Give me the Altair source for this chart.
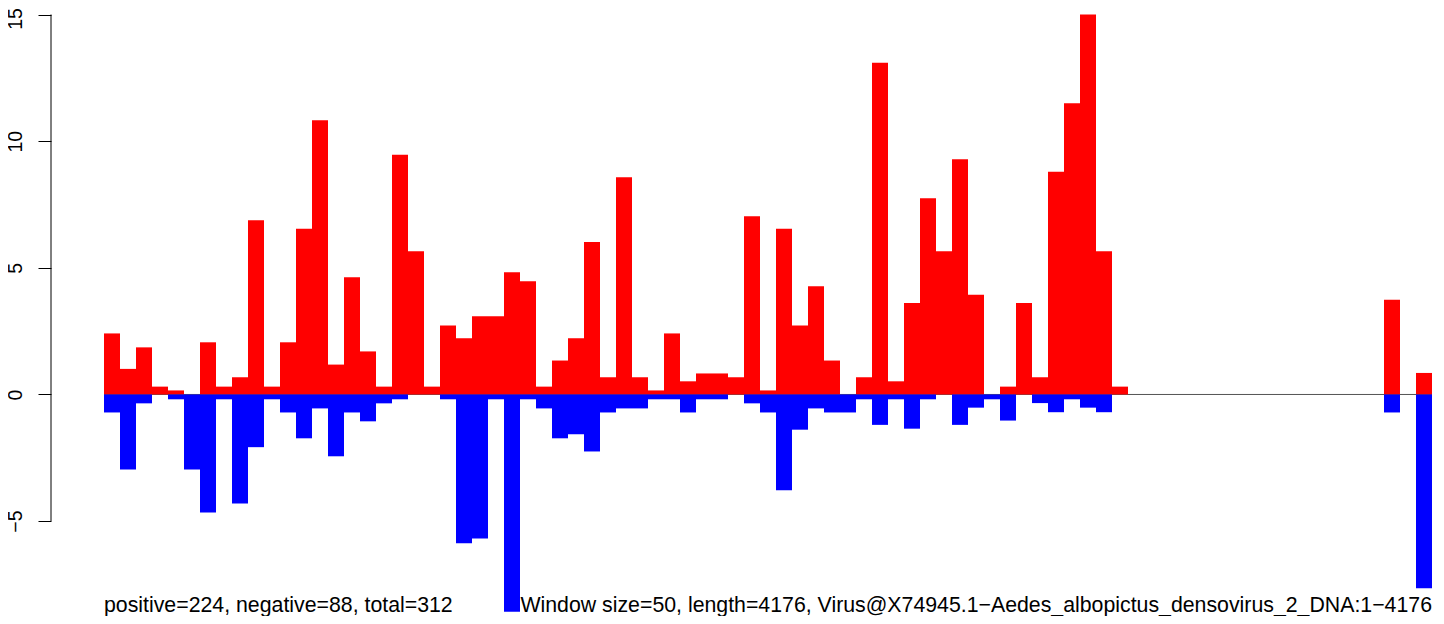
import altair as alt
import pandas as pd

# ---- data (one value per 50-nt window) ----
positive = [2.41, 1.01, 1.86, 0.31, 0.16, 0.00, 2.06, 0.31, 0.68, 6.88,
            0.31, 2.06, 6.54, 10.83, 1.18, 4.63, 1.70, 0.31, 9.46, 5.65,
            0.31, 2.72, 2.22, 3.09, 3.09, 4.83, 4.47, 0.31, 1.34, 2.22,
            6.02, 0.68, 8.58, 0.68, 0.16, 2.41, 0.52, 0.83, 0.83, 0.68,
            7.04, 0.16, 6.54, 2.72, 4.27, 1.34, 0.00, 0.68, 13.10, 0.52,
            3.61, 7.75, 5.65, 9.29, 3.94, 0.00, 0.31, 3.61, 0.68, 8.79,
            11.50, 15.00, 5.65, 0.31, 0.00, 0.00, 0.00, 0.00, 0.00, 0.00,
            0.00, 0.00, 0.00, 0.00, 0.00, 0.00, 0.00, 0.00, 0.00, 0.00,
            3.74, 0.00, 0.85]
negative = [-0.71, -2.96, -0.35, 0.00, -0.19, -2.96, -4.66, -0.19, -4.30, -2.08,
            -0.19, -0.71, -1.73, -0.55, -2.44, -0.71, -1.06, -0.35, -0.19, 0.00,
            0.00, -0.19, -5.87, -5.69, -0.19, -8.58, -0.19, -0.55, -1.73, -1.57,
            -2.25, -0.71, -0.55, -0.55, -0.19, -0.19, -0.71, -0.19, -0.19, 0.00,
            -0.35, -0.71, -3.78, -1.39, -0.55, -0.71, -0.71, -0.19, -1.20, -0.19,
            -1.35, -0.19, 0.00, -1.20, -0.52, -0.19, -1.03, 0.00, -0.34, -0.70,
            -0.19, -0.52, -0.70, 0.00, 0.00, 0.00, 0.00, 0.00, 0.00, 0.00,
            0.00, 0.00, 0.00, 0.00, 0.00, 0.00, 0.00, 0.00, 0.00, 0.00,
            -0.71, 0.00, -7.65]
y_ticks = [-5, 0, 5, 10, 15]
series_names = ["positive", "negative"]
series_colors = ["#ff0000", "#0000ff"]
left_note = "positive=224, negative=88, total=312"
right_note = ("Window size=50, length=4176, "
              "Virus@X74945.1\u2212Aedes_albopictus_densovirus_2_DNA:1\u22124176")

n = len(positive)
XMIN, XMAX = -3.3125, 83.25
YMIN, YMAX = -8.587, 15.02
FONT = "Liberation Sans, Arial, Helvetica, sans-serif"

rows = []
for i, (p, q) in enumerate(zip(positive, negative)):
    rows.append({"start": i, "end": i + 1, "value": p, "base": 0, "series": "positive"})
    rows.append({"start": i, "end": i + 1, "value": q, "base": 0, "series": "negative"})
bars_df = pd.DataFrame(rows)

xs = alt.Scale(domain=[XMIN, XMAX], nice=False, zero=False)
ys = alt.Scale(domain=[YMIN, YMAX], nice=False, zero=False)

yaxis = alt.Axis(
    values=y_ticks, domain=False, grid=False, ticks=True, tickSize=13,
    tickColor="black", tickWidth=1, labelAngle=270, labelAlign="center",
    labelBaseline="alphabetic", labelPadding=17, labelFontSize=19.5,
    labelFont=FONT, labelColor="black", labelOverlap=False, title=None,
    labelOffset={"condition": {"test": "datum.value == 15", "value": 4}, "value": 0},
    labelExpr="replace(datum.label, '-', '\u2212')",
)

zero_line = alt.Chart(pd.DataFrame({"x1": [0], "x2": [n], "y": [0]})).mark_rule(
    color="#555555", strokeWidth=1
).encode(
    x=alt.X("x1:Q", scale=xs, axis=None),
    x2="x2:Q",
    y=alt.Y("y:Q", scale=ys, axis=yaxis),
)

bars = alt.Chart(bars_df).mark_rect(strokeWidth=0).encode(
    x=alt.X("start:Q", scale=xs, axis=None),
    x2="end:Q",
    y=alt.Y("value:Q", scale=ys, axis=yaxis),
    y2="base:Q",
    color=alt.Color("series:N", scale=alt.Scale(domain=series_names, range=series_colors), legend=None),
)

axis_line = alt.Chart(pd.DataFrame({"x": [XMIN], "y1": [y_ticks[0]], "y2": [y_ticks[-1]]})).mark_rule(
    color="black", strokeWidth=1
).encode(
    x=alt.X("x:Q", scale=xs, axis=None),
    y=alt.Y("y1:Q", scale=ys, axis=yaxis),
    y2="y2:Q",
)

notes_df = pd.DataFrame({"x": [0, n], "y": [YMIN, YMIN], "text": [left_note, right_note]})
note_left = alt.Chart(notes_df.iloc[[0]]).mark_text(
    align="left", baseline="alphabetic", fontSize=21.3, font=FONT, color="black"
).encode(x=alt.X("x:Q", scale=xs, axis=None), y=alt.Y("y:Q", scale=ys, axis=yaxis), text="text:N")
note_right = alt.Chart(notes_df.iloc[[1]]).mark_text(
    align="right", baseline="alphabetic", fontSize=21.3, font=FONT, color="black"
).encode(x=alt.X("x:Q", scale=xs, axis=None), y=alt.Y("y:Q", scale=ys, axis=yaxis), text="text:N")

chart = alt.layer(zero_line, bars, axis_line, note_left, note_right).properties(
    width=1385, height=598,
    autosize=alt.AutoSizeParams(type="none"),
    padding={"left": 43, "top": 6, "right": 0, "bottom": 4},
    background="white",
).configure_view(stroke=None)

chart.save("out.html", embed_options={"renderer": "svg", "actions": False})
